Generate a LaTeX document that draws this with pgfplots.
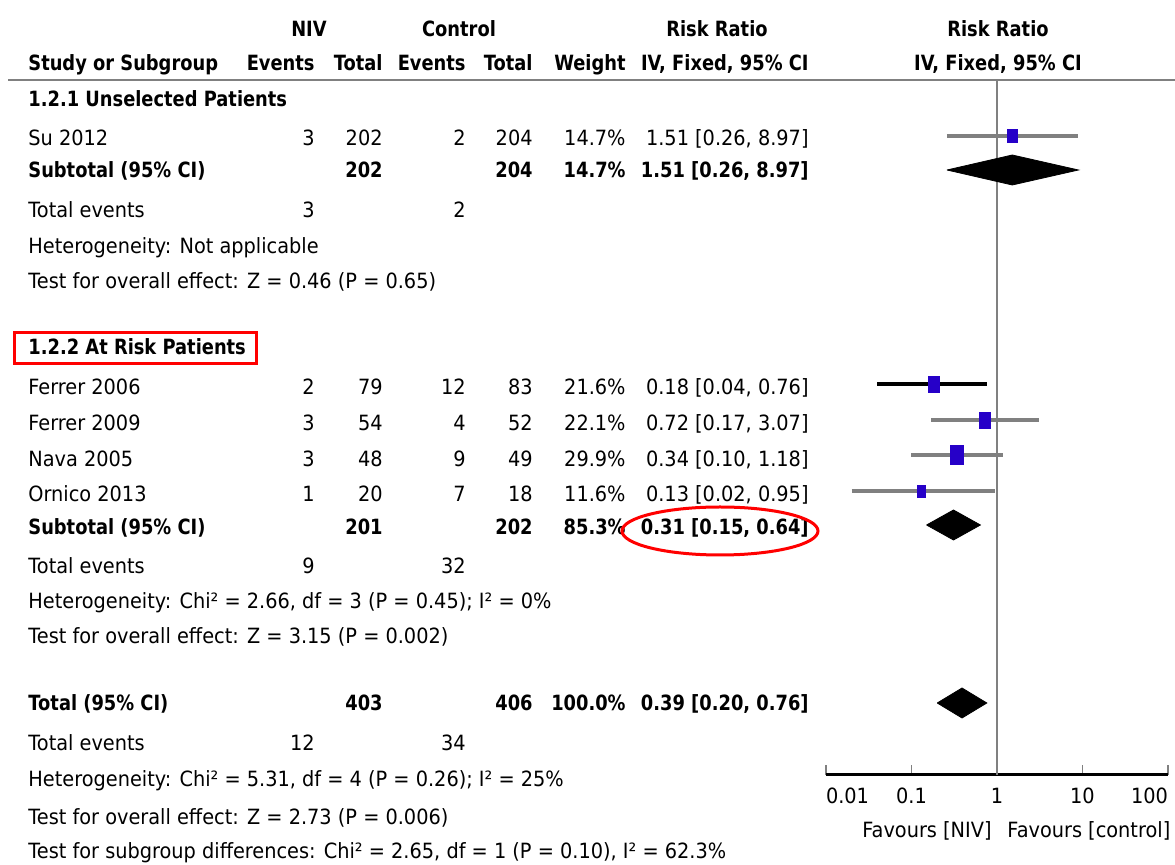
\documentclass[border=0pt]{standalone}
\usepackage{fontspec}
\setmainfont{DejaVu Sans}[UprightFeatures={FakeStretch=0.92}, BoldFeatures={FakeStretch=0.85}]
\usepackage{pgfplots}
\pgfplotsset{compat=1.18}
\definecolor{sq}{RGB}{38,0,200}
\definecolor{gr}{RGB}{128,128,128}
\newcommand\TL[3]{\node[anchor=base west,inner sep=0pt] at (#1,#2) {#3};}
\newcommand\TR[3]{\node[anchor=base east,inner sep=0pt] at (#1,#2) {#3};}
\newcommand\TC[3]{\node[anchor=base,inner sep=0pt] at (#1,#2) {#3};}
\newcommand\fs{\fontsize{10.5}{12}\selectfont}
\begin{document}
\begin{tikzpicture}[font=\fs]
\useasboundingbox (0pt,0pt) rectangle (587.5pt,-432.5pt);
\begin{axis}[
  at={(413pt,-387.5pt)}, anchor=south west,
  scale only axis, width=171pt, height=347.5pt,
  xmode=log, xmin=0.01, xmax=100, ymin=-775, ymax=-80,
  axis x line=bottom, axis y line=none,
  x axis line style={-, black, line width=1.5pt},
  xtick={0.01,0.1,1,10,100},
  xticklabels={\makebox[0pt][l]{0.01},0.1,1,10,\makebox[0pt][r]{100}},
  xminorticks=false,
  tick align=inside,
  major tick length=5pt,
  xtick style={gr, line width=0.6pt},
  xticklabel style={yshift=-3pt, font=\fs},
  clip=false,
]
% line of no effect
\addplot[gr, line width=1pt] coordinates {(1,-80) (1,-775)};
% confidence intervals
\addplot[gr, line width=1.7pt] coordinates {(0.26,-136) (8.97,-136)};
\addplot[black, line width=1.7pt] coordinates {(0.04,-384) (0.76,-384)};
\addplot[gr, line width=1.7pt] coordinates {(0.17,-420) (3.07,-420)};
\addplot[gr, line width=1.7pt] coordinates {(0.10,-455) (1.18,-455)};
\addplot[gr, line width=1.7pt] coordinates {(0.02,-491) (0.95,-491)};
% study squares
\addplot[only marks, mark=square*, mark size=3.3pt, mark options={xscale=0.7, fill=sq, draw=sq, line width=0.2pt}] coordinates {(1.51,-136)};
\addplot[only marks, mark=square*, mark size=4.0pt, mark options={xscale=0.7, fill=sq, draw=sq, line width=0.2pt}] coordinates {(0.18,-384)};
\addplot[only marks, mark=square*, mark size=4.1pt, mark options={xscale=0.7, fill=sq, draw=sq, line width=0.2pt}] coordinates {(0.72,-420)};
\addplot[only marks, mark=square*, mark size=4.75pt, mark options={xscale=0.7, fill=sq, draw=sq, line width=0.2pt}] coordinates {(0.34,-455)};
\addplot[only marks, mark=square*, mark size=2.95pt, mark options={xscale=0.7, fill=sq, draw=sq, line width=0.2pt}] coordinates {(0.13,-491)};
% pooled diamonds
\addplot[fill=black, draw=black] coordinates {(0.26,-170) (1.51,-155) (8.97,-170) (1.51,-185) (0.26,-170)};
\addplot[fill=black, draw=black] coordinates {(0.15,-525) (0.31,-510) (0.64,-525) (0.31,-540) (0.15,-525)};
\addplot[fill=black, draw=black] coordinates {(0.20,-703) (0.39,-688) (0.76,-703) (0.39,-718) (0.20,-703)};
\end{axis}
\begin{scope}[x=0.5pt,y=-0.5pt]
\draw[gr, line width=1pt] (8,80) -- (1175,80);
% header
\begin{scope}[font=\fs\bfseries]
\TC{309}{37}{NIV}
\TC{459}{37}{Control}
\TC{717}{37}{Risk Ratio}
\TC{998}{37}{Risk Ratio}
\TL{28}{71}{Study or Subgroup}
\TR{315}{71}{Events}
\TR{383}{71}{Total}
\TR{466}{71}{Events}
\TR{533}{71}{Total}
\TR{626}{71}{Weight}
\TR{809}{71}{IV, Fixed, 95\% CI}
\TC{998}{71}{IV, Fixed, 95\% CI}
\end{scope}
% subgroup 1
\TL{28}{107}{\bfseries 1.2.1 Unselected Patients}
\TL{28}{146}{Su 2012}\TR{315}{146}{3}\TR{383}{146}{202}\TR{466}{146}{2}\TR{533}{146}{204}\TR{626}{146}{14.7\%}\TR{809}{146}{1.51 [0.26, 8.97]}
\begin{scope}[font=\fs\bfseries]
\TL{28}{178}{Subtotal (95\% CI)}\TR{383}{178}{202}\TR{533}{178}{204}\TR{626}{178}{14.7\%}\TR{809}{178}{1.51 [0.26, 8.97]}
\end{scope}
\TL{28}{218}{Total events}\TR{315}{218}{3}\TR{466}{218}{2}
\TL{28}{254}{Heterogeneity: Not applicable}
\TL{28}{289}{Test for overall effect: Z = 0.46 (P = 0.65)}
% subgroup 2
\TL{28}{355}{\bfseries 1.2.2 At Risk Patients}
\draw[red, line width=1.5pt] (14,333) rectangle (256,364);
\TL{28}{395}{Ferrer 2006}\TR{315}{395}{2}\TR{383}{395}{79}\TR{466}{395}{12}\TR{533}{395}{83}\TR{626}{395}{21.6\%}\TR{809}{395}{0.18 [0.04, 0.76]}
\TL{28}{431}{Ferrer 2009}\TR{315}{431}{3}\TR{383}{431}{54}\TR{466}{431}{4}\TR{533}{431}{52}\TR{626}{431}{22.1\%}\TR{809}{431}{0.72 [0.17, 3.07]}
\TL{28}{467}{Nava 2005}\TR{315}{467}{3}\TR{383}{467}{48}\TR{466}{467}{9}\TR{533}{467}{49}\TR{626}{467}{29.9\%}\TR{809}{467}{0.34 [0.10, 1.18]}
\TL{28}{502}{Ornico 2013}\TR{315}{502}{1}\TR{383}{502}{20}\TR{466}{502}{7}\TR{533}{502}{18}\TR{626}{502}{11.6\%}\TR{809}{502}{0.13 [0.02, 0.95]}
\begin{scope}[font=\fs\bfseries]
\TL{28}{535}{Subtotal (95\% CI)}\TR{383}{535}{201}\TR{533}{535}{202}\TR{626}{535}{85.3\%}\TR{809}{535}{0.31 [0.15, 0.64]}
\end{scope}
\draw[red, line width=1.5pt] (720,531) ellipse [x radius=98, y radius=24];
\TL{28}{574}{Total events}\TR{315}{574}{9}\TR{466}{574}{32}
\TL{28}{609}{Heterogeneity: Chi² = 2.66, df = 3 (P = 0.45); I² = 0\%}
\TL{28}{644}{Test for overall effect: Z = 3.15 (P = 0.002)}
% total
\begin{scope}[font=\fs\bfseries]
\TL{28}{711}{Total (95\% CI)}\TR{383}{711}{403}\TR{533}{711}{406}\TR{626}{711}{100.0\%}\TR{809}{711}{0.39 [0.20, 0.76]}
\end{scope}
\TL{28}{751}{Total events}\TR{315}{751}{12}\TR{466}{751}{34}
\TL{28}{787}{Heterogeneity: Chi² = 5.31, df = 4 (P = 0.26); I² = 25\%}
\TL{28}{825}{Test for overall effect: Z = 2.73 (P = 0.006)}
\TL{28}{859}{Test for subgroup differences: Chi² = 2.65, df = 1 (P = 0.10), I² = 62.3\%}
% favours labels
\TR{992}{838}{Favours [NIV]}
\TL{1007}{838}{Favours [control]}
\end{scope}
\end{tikzpicture}
\end{document}
